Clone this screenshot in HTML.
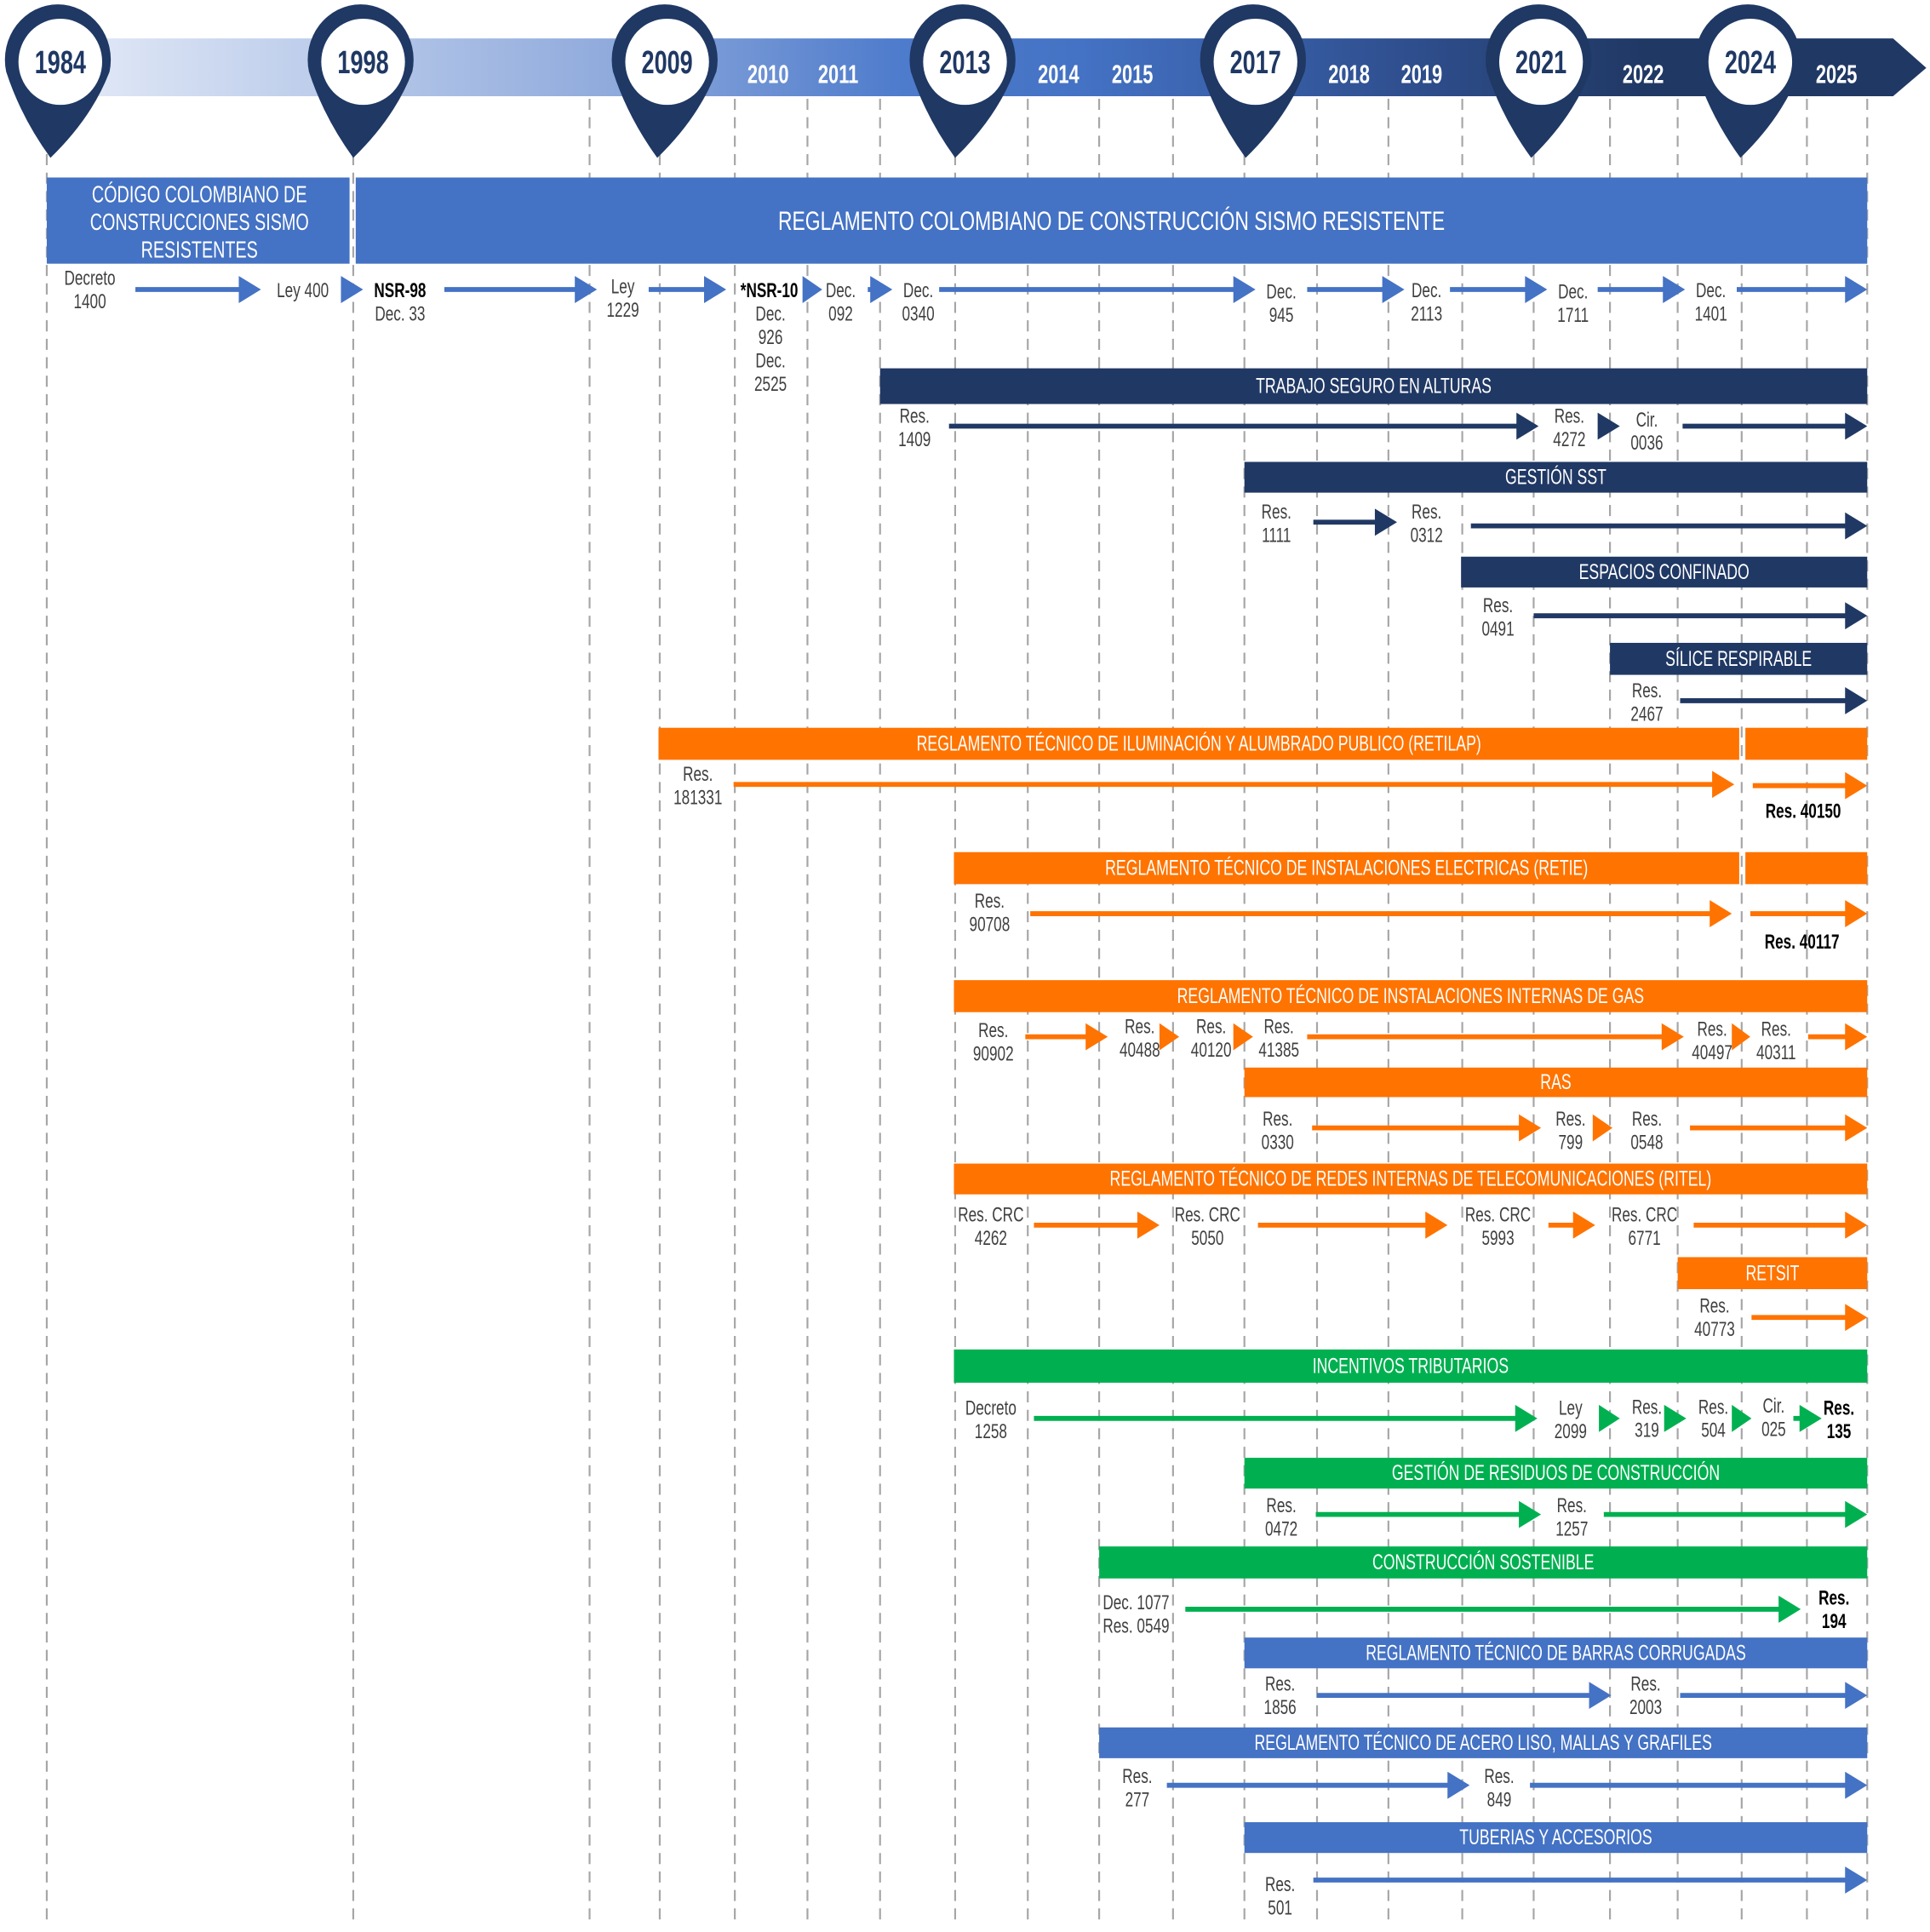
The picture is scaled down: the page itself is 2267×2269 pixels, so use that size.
<!DOCTYPE html>
<html><head><meta charset="utf-8">
<style>
html,body{margin:0;padding:0;background:#fff;}
svg{display:block;}
text{font-family:"Liberation Sans Narrow","Liberation Sans",sans-serif;}
</style></head>
<body>
<svg id="chart" width="2267" height="2269" viewBox="0 0 1568 1569" xmlns="http://www.w3.org/2000/svg">
<defs>
<linearGradient id="band" x1="40" y1="0" x2="1565" y2="0" gradientUnits="userSpaceOnUse">
<stop offset="0" stop-color="#e6ecf8"/>
<stop offset="0.3" stop-color="#8faadc"/>
<stop offset="0.45" stop-color="#4f7ccc"/>
<stop offset="0.55" stop-color="#4472c4"/>
<stop offset="0.72" stop-color="#2f4f8f"/>
<stop offset="0.85" stop-color="#203864"/>
<stop offset="1" stop-color="#203864"/>
</linearGradient>
</defs>
<polygon points="40,31 1538,31 1565,55 1538,78 40,78" fill="url(#band)"/>
<g id="grid"></g>
<g id="bars"></g>
<g id="arrows"></g>
<g id="labels"></g>
<g id="pins"></g>
</svg>
<script>
const NS="http://www.w3.org/2000/svg";
// Year columns
const gridX=[38,287,479,536,597,656,715,776,835,893,953,1011,1070,1128,1188,1246,1308,1363,1415,1468,1517];
const pinYears=["1984","1998","2009","2013","2017","2021","2024"];
const pinX=[47,293,540,782,1018,1250,1420];
const smallYears=["2010","2011","2014","2015","2018","2019","2022","2025"];
const smallYearX=[624,681,860,920,1096,1155,1335,1492];
const C={blue:"#4472c4",dark:"#203864",orange:"#ff7300",green:"#00b050"};
// bars: [x0,x1,y0,y1,color,label]
const bars=[
[38,284,144,214,"blue",""],
[289,1517,144,214,"blue","REGLAMENTO COLOMBIANO DE CONSTRUCCIÓN SISMO RESISTENTE"],
[715,1517,299,328,"dark","TRABAJO SEGURO EN ALTURAS"],
[1011,1517,375,400,"dark","GESTIÓN SST"],
[1187,1517,452,477,"dark","ESPACIOS CONFINADO"],
[1308,1517,522,548,"dark","SÍLICE RESPIRABLE"],
[535,1413,591,617,"orange","REGLAMENTO TÉCNICO DE ILUMINACIÓN Y ALUMBRADO PUBLICO (RETILAP)"],
[1418,1517,591,617,"orange",""],
[775,1413,692,718,"orange","REGLAMENTO TÉCNICO DE INSTALACIONES ELECTRICAS (RETIE)"],
[1418,1517,692,718,"orange",""],
[775,1517,796,822,"orange","REGLAMENTO TÉCNICO DE  INSTALACIONES INTERNAS DE GAS"],
[1011,1517,867,891,"orange","RAS"],
[775,1517,945,970,"orange","REGLAMENTO TÉCNICO DE REDES INTERNAS DE TELECOMUNICACIONES (RITEL)"],
[1363,1517,1021,1047,"orange","RETSIT"],
[775,1517,1096,1123,"green","INCENTIVOS TRIBUTARIOS"],
[1011,1517,1184,1209,"green","GESTIÓN DE RESIDUOS DE CONSTRUCCIÓN"],
[893,1517,1256,1282,"green","CONSTRUCCIÓN SOSTENIBLE"],
[1011,1517,1330,1355,"blue","REGLAMENTO TÉCNICO DE BARRAS CORRUGADAS"],
[893,1517,1403,1428,"blue","REGLAMENTO TÉCNICO DE ACERO LISO, MALLAS Y GRAFILES"],
[1011,1517,1480,1505,"blue","TUBERIAS Y ACCESORIOS"]
];
// arrows: [x0,x1,y,color]
const arrows=[
[110,212,235,"blue"],[277,295,235,"blue"],[361,485,235,"blue"],[527,590,235,"blue"],[652,668,235,"blue"],[705,725,235,"blue"],[763,1020,235,"blue"],[1062,1141,235,"blue"],[1178,1257,235,"blue"],[1298,1369,235,"blue"],[1411,1517,235,"blue"],
[771,1250,346,"dark"],[1298,1316,346,"dark"],[1367,1517,346,"dark"],
[1067,1135,424,"dark"],[1195,1517,427,"dark"],
[1246,1517,500,"dark"],[1365,1517,569,"dark"],
[596,1409,637,"orange"],[1424,1517,638,"orange"],
[837,1407,742,"orange"],[1422,1517,742,"orange"],
[833,900,842,"orange"],[942,958,842,"orange"],[1002,1018,842,"orange"],[1062,1368,842,"orange"],[1407,1422,842,"orange"],[1469,1517,842,"orange"],
[1066,1252,916,"orange"],[1294,1310,916,"orange"],[1373,1517,916,"orange"],
[840,942,995,"orange"],[1022,1176,995,"orange"],[1258,1296,995,"orange"],[1376,1517,995,"orange"],
[1423,1517,1070,"orange"],
[840,1249,1152,"green"],[1299,1316,1152,"green"],[1352,1370,1152,"green"],[1407,1423,1152,"green"],[1457,1480,1152,"green"],
[1069,1252,1230,"green"],[1303,1517,1230,"green"],
[963,1463,1307,"green"],
[1070,1309,1377,"blue"],[1365,1517,1377,"blue"],
[948,1194,1450,"blue"],[1243,1517,1450,"blue"],
[1067,1517,1527,"blue"]
];
// labels: [x, y, text, bold]
const labels=[
["Decreto",73,226],["1400",73,245],["Ley 400",246,236],["NSR-98",325,236,1],["Dec. 33",325,255],
["Ley",506,233],["1229",506,252],["*NSR-10",625,236,1],["Dec.",626,255],["926",626,274],["Dec.",626,293],["2525",626,312],
["Dec.",683,236],["092",683,255],["Dec.",746,236],["0340",746,255],
["Dec.",1041,237],["945",1041,256],["Dec.",1159,236],["2113",1159,255],["Dec.",1278,237],["1711",1278,256],["Dec.",1390,236],["1401",1390,255],
["Res.",743,338],["1409",743,357],["Res.",1275,338],["4272",1275,357],["Cir.",1338,341],["0036",1338,360],
["Res.",1037,416],["1111",1037,435],["Res.",1159,416],["0312",1159,435],
["Res.",1217,492],["0491",1217,511],["Res.",1338,561],["2467",1338,580],
["Res.",567,629],["181331",567,648],["Res. 40150",1465,659,1],
["Res.",804,732],["90708",804,751],["Res. 40117",1464,765,1],
["Res.",807,837],["90902",807,856],["Res.",926,834],["40488",926,853],["Res.",984,834],["40120",984,853],["Res.",1039,834],["41385",1039,853],
["Res.",1391,836],["40497",1391,855],["Res.",1443,836],["40311",1443,855],
["Res.",1038,909],["0330",1038,928],["Res.",1276,909],["799",1276,928],["Res.",1338,909],["0548",1338,928],
["Res. CRC",805,987],["4262",805,1006],["Res.  CRC",981,987],["5050",981,1006],["Res. CRC",1217,987],["5993",1217,1006],["Res. CRC",1336,987],["6771",1336,1006],
["Res.",1393,1061],["40773",1393,1080],
["Decreto",805,1144],["1258",805,1163],["Ley",1276,1144],["2099",1276,1163],["Res.",1338,1143],["319",1338,1162],["Res.",1392,1143],["504",1392,1162],["Cir.",1441,1142],["025",1441,1161],["Res.",1494,1144,1],["135",1494,1163,1],
["Res.",1041,1223],["0472",1041,1242],["Res.",1277,1223],["1257",1277,1242],
["Dec. 1077",923,1302],["Res. 0549",923,1321],["Res.",1490,1298,1],["194",1490,1317,1],
["Res.",1040,1368],["1856",1040,1387],["Res.",1337,1368],["2003",1337,1387],
["Res.",924,1443],["277",924,1462],["Res.",1218,1443],["849",1218,1462],
["Res.",1040,1531],["501",1040,1550]
];
function mk(tag,attrs,parent){const e=document.createElementNS(NS,tag);for(const k in attrs)e.setAttribute(k,attrs[k]);parent.appendChild(e);return e;}
function txt(parent,x,y,s,size,fill,weight){
  const t=mk("text",{transform:`translate(${x},${y}) scale(0.72,1)`,x:0,y:0,"text-anchor":"middle","dominant-baseline":"central","font-size":size,fill:fill,"font-weight":weight||"normal"},parent);
  t.textContent=s;return t;}
const G=id=>document.getElementById(id);
gridX.forEach(x=>{
  const l=mk("line",{x1:x,x2:x,y1:80,y2:1560,stroke:"#a6a6a6","stroke-width":1.5,"stroke-dasharray":"9 6"},G("grid"));
  
  
});
smallYears.forEach((y,i)=>{
  const t=txt(G("labels"),smallYearX[i],60,y,21,"#ffffff","bold");
  
  
});
bars.forEach(b=>{
  const r=mk("rect",{x:b[0],y:b[2],width:b[1]-b[0],height:b[3]-b[2],fill:C[b[4]]},G("bars"));
  
  
  if(b[5]){const t=txt(G("bars"),(b[0]+b[1])/2,(b[2]+b[3])/2,b[5],b[3]-b[2]>40?22:17,"#ffffff");
    
    }
});
["CÓDIGO COLOMBIANO DE","CONSTRUCCIONES SISMO","RESISTENTES"].forEach((s,i)=>{
  const t=txt(G("bars"),162,158+i*22.5,s,19,"#ffffff");
  
  
});
arrows.forEach(a=>{
  const g=mk("g",{},G("arrows"));
  
  
  const col=C[a[3]],hl=Math.min(18,a[1]-a[0]);
  if(a[1]-a[0]>hl)mk("line",{x1:a[0],x2:a[1]-hl+1,y1:a[2],y2:a[2],stroke:col,"stroke-width":4},g);
  mk("polygon",{points:`${a[1]-hl},${a[2]-11} ${a[1]},${a[2]} ${a[1]-hl},${a[2]+11}`,fill:col},g);
});
labels.forEach(l=>{
  const t=txt(G("labels"),l[1],l[2],l[0],l[3]?16.5:16.5,l[3]?"#000000":"#404040",l[3]?"bold":"normal");
  
  
});
pinYears.forEach((y,i)=>{
  const cx=pinX[i],cy=50,g=mk("g",{},G("pins"));
  
  
  mk("path",{d:`M${cx-42},${cy+8} Q${cx-30},${cy+45} ${cx-6},${cy+78} Q${cx+28},${cy+45} ${cx+42},${cy+8} A43 45 0 1 0 ${cx-42} ${cy+8} Z`,fill:"#1f3864"},g);
  mk("ellipse",{cx:cx+2,cy:cy,rx:34,ry:35,fill:"#ffffff"},g);
  txt(g,cx+2,cy,y,26,"#1f3864","bold");
});
</script>
</body></html>
